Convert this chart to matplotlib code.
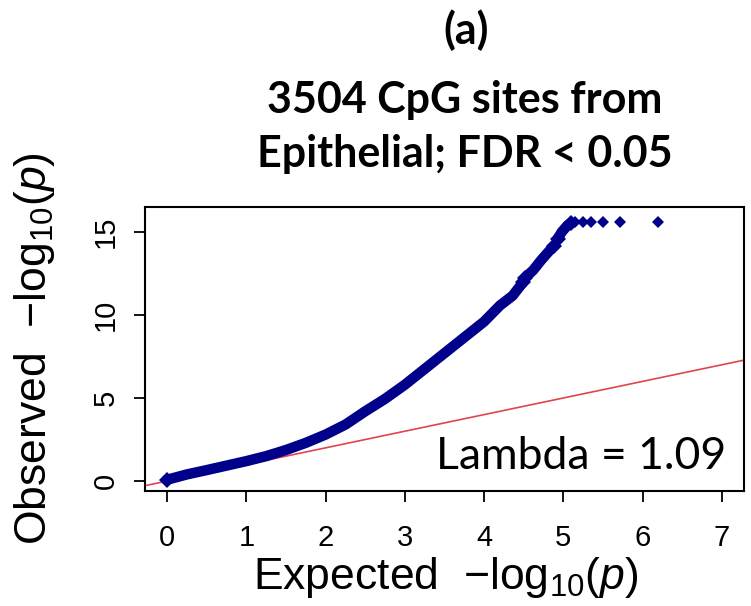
import numpy as np
import matplotlib
matplotlib.use('Agg')
import matplotlib.pyplot as plt

band_expected = [0.00, 0.25, 0.50, 0.75, 1.00, 1.25, 1.50, 1.75, 2.00, 2.25,
                 2.50, 2.75, 3.00, 3.25, 3.50, 3.75, 4.00, 4.20, 4.36, 4.49]
band_observed = [0.08, 0.40, 0.66, 0.93, 1.20, 1.50, 1.87, 2.30, 2.80, 3.40,
                 4.20, 4.95, 5.80, 6.75, 7.70, 8.65, 9.60, 10.57, 11.16, 11.96]
mid_expected = [4.52, 4.62, 4.72, 4.84, 4.88]
mid_observed = [12.25, 12.70, 13.30, 13.95, 14.15]
upper_expected = [4.93, 4.98, 5.05, 5.10]
upper_observed = [14.60, 15.00, 15.38, 15.55]
top_expected = [5.15, 5.25, 5.35, 5.50, 5.72, 6.19]
top_observed = [15.60, 15.60, 15.60, 15.60, 15.60, 15.60]

ref_intercept, ref_slope = 0, 1
lambda_value = 1.09

x_ticks = [0, 1, 2, 3, 4, 5, 6, 7]
y_ticks = [0, 5, 10, 15]

navy = '#00008b'
red = '#e0444f'

plt.rcParams['mathtext.fontset'] = 'custom'
plt.rcParams['mathtext.rm'] = 'Liberation Sans'
plt.rcParams['mathtext.it'] = 'Liberation Sans:italic'

fig = plt.figure(figsize=(7.51, 6.06), dpi=100)
ax = fig.add_axes([145 / 751, 1 - 491 / 606, 599 / 751, 284 / 606])

# опорная линия y = x
ax.axline((0, ref_intercept), slope=ref_slope, color=red, linewidth=1.2, zorder=1)

# основная "лента" точек, ромбы только на концах отрезков
for xs, ys in [(band_expected, band_observed), (mid_expected, mid_observed),
               (upper_expected, upper_observed)]:
    ax.plot(xs, ys, color=navy, linewidth=7.5, solid_capstyle='round', zorder=2,
            marker='D', markersize=8, markeredgewidth=0,
            markevery=[0, len(xs) - 1])
ax.plot(top_expected, top_observed, 'D', color=navy, markersize=6.5,
        markeredgewidth=0, zorder=2)

ax.set_xlim(-0.28, 7.28)
ax.set_ylim(-0.6, 16.5)
ax.set_xticks(x_ticks)
ax.set_yticks(y_ticks)
ax.tick_params(axis='both', direction='out', length=8, width=1.3, labelsize=21)
ax.tick_params(axis='x', pad=16)
ax.tick_params(axis='y', pad=10)
for lab in ax.get_xticklabels() + ax.get_yticklabels():
    lab.set_family('Liberation Sans')
for lab in ax.get_yticklabels():
    lab.set_rotation(90)
    lab.set_va('center')
for sp in ax.spines.values():
    sp.set_linewidth(1.5)

# подписи осей
axis_math = r'$-\mathrm{log}_{10}(\mathit{p})$'
fig.text(446 / 751, 1 - 578 / 606, 'Expected  ' + axis_math,
         fontsize=32, family='Liberation Sans', ha='center', va='center')
fig.text(35 / 751, 1 - 349 / 606, 'Observed  ' + axis_math,
         fontsize=32, family='Liberation Sans', ha='center', va='center', rotation=90)

# лямбда
fig.text(726 / 751, 1 - 469 / 606, f'Lambda = {lambda_value:.2f}',
         fontsize=32, family='Lato', ha='right', va='baseline')

# заголовки
fig.text(466 / 751, 1 - 44 / 606, '(a)', fontsize=31, family='Lato',
         weight='bold', ha='center', va='baseline')
fig.text(465 / 751, 1 - 113 / 606, '3504 CpG sites from', fontsize=31,
         family='Lato', weight='bold', ha='center', va='baseline')
fig.text(465 / 751, 1 - 167 / 606, 'Epithelial; FDR < 0.05', fontsize=31,
         family='Lato', weight='bold', ha='center', va='baseline')

fig.savefig('out.png', dpi=100)
